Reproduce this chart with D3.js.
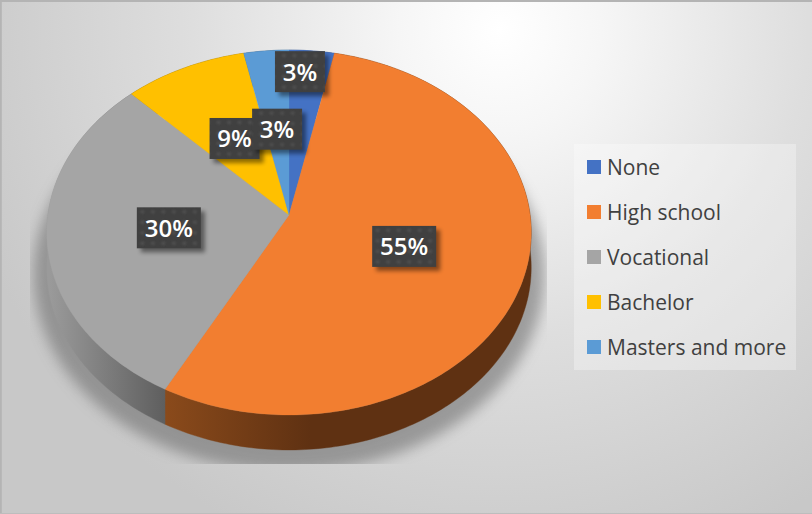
<!DOCTYPE html>
<html><head><meta charset="utf-8">
<script src="https://cdn.jsdelivr.net/npm/d3@7"></script>
<style>html,body{margin:0;padding:0;background:#fff;overflow:hidden}svg{display:block}text{font-family:"Open Sans",sans-serif}</style>
</head><body><div id="chart"></div>
<script>
const categories = ["None","High school","Vocational","Bachelor","Masters and more"];
const shares = [3.3,54.5,29.9,9.0,3.3];
const colors = ["#4472C4","#F27E30","#A5A5A5","#FFC000","#5B9BD5"];

const W=812,H=514;
const apex={x:289,y:215}, R=241.1, B=180.8, K=0.0959, DEPTH=35;
// perspective projection of a point on the unit disc (angle clockwise from top)
const project=(a,r=1)=>{const u=r*Math.sin(a),v=-r*Math.cos(a),s=1-K*v;return [apex.x+R*u/s,apex.y+B*v/s];};
const line=d3.line();
const samples=(a0,a1)=>{const n=Math.max(2,Math.ceil((a1-a0)*60));return d3.range(n+1).map(i=>a0+(a1-a0)*i/n);};

const svg=d3.select("#chart").append("svg").attr("width",W).attr("height",H);
const defs=svg.append("defs");

const bg=defs.append("radialGradient").attr("id","bg").attr("gradientUnits","userSpaceOnUse")
 .attr("cx",500).attr("cy",30).attr("r",560);
[[0,"#ffffff"],[0.18,"#f6f6f6"],[0.55,"#dedede"],[1,"#c8c8c8"]].forEach(s=>bg.append("stop").attr("offset",s[0]).attr("stop-color",s[1]));

const blur=(id,sd)=>defs.append("filter").attr("id",id).attr("x","-30%").attr("y","-30%").attr("width","160%").attr("height","160%")
 .append("feGaussianBlur").attr("stdDeviation",sd);
blur("soft",7); blur("lblShadow",2.2); blur("dotBlur",1);

const pat=defs.append("pattern").attr("id","dots").attr("patternUnits","userSpaceOnUse").attr("width",10.5).attr("height",10.5);
pat.append("rect").attr("width",10.5).attr("height",10.5).attr("fill","#404040");
pat.append("circle").attr("cx",5).attr("cy",5).attr("r",2).attr("fill","#505050").attr("filter","url(#dotBlur)");

defs.append("clipPath").attr("id","shClip").append("rect").attr("x",30).attr("y",120).attr("width",517).attr("height",344);

const wallGrad=(id,x1,x2,c1,c2)=>{const g=defs.append("linearGradient").attr("id",id).attr("gradientUnits","userSpaceOnUse")
 .attr("x1",x1).attr("x2",x2).attr("y1",0).attr("y2",0);
 g.append("stop").attr("offset",0).attr("stop-color",c1);g.append("stop").attr("offset",1).attr("stop-color",c2);};
wallGrad("wall1",166,310,"#8A4A1B","#5F3112");
wallGrad("wall2",50,170,"#9a9a9a","#5c5c5c");

svg.append("rect").attr("width",W).attr("height",H).attr("fill","url(#bg)");
svg.append("path").attr("d",`M0.8,${H}V1H${W}`).attr("fill","none").attr("stroke","#b4b4b4").attr("stroke-width",2);
svg.append("line").attr("x1",0).attr("x2",W).attr("y1",H-0.5).attr("y2",H-0.5).attr("stroke","#bdbdbd");

const arcs=d3.pie().sort(null).value(d=>d)(shares);
const full=samples(0,2*Math.PI).map(a=>project(a));

// blurred cast shadow, cut off by its own rectangle as in the picture
svg.append("g").attr("clip-path","url(#shClip)").append("path")
 .attr("d",line(full.map(p=>[apex.x+(p[0]-apex.x)*1.055,232+(p[1]-232)*1.08+42]))+"Z")
 .attr("fill","#666").attr("opacity",0.55).attr("filter","url(#soft)");

// side wall
const wallFill=i=>i===1?"url(#wall1)":i===2?"url(#wall2)":d3.color(colors[i]).darker(1.6);
svg.append("g").selectAll("path").data(arcs).join("path")
 .attr("d",d=>{const t=samples(d.startAngle,d.endAngle).map(a=>project(a));
   return line(t.concat(t.slice().reverse().map(p=>[p[0],p[1]+DEPTH])))+"Z";})
 .attr("fill",(d,i)=>wallFill(i)).attr("stroke",(d,i)=>wallFill(i)).attr("stroke-width",0.4);

// top face
svg.append("g").selectAll("path").data(arcs).join("path")
 .attr("d",d=>line([[apex.x,apex.y]].concat(samples(d.startAngle,d.endAngle).map(a=>project(a))))+"Z")
 .attr("fill",(d,i)=>colors[i]).attr("stroke",(d,i)=>colors[i]).attr("stroke-width",0.3);

// data labels
const LABEL_RADIUS=0.5, OUTER_RADIUS=0.866;
const labelPos=(d,i)=>{const m=(d.startAngle+d.endAngle)/2;
  if(i===0){const p=project(m,OUTER_RADIUS);return [p[0]-9,p[1]+0.5];}
  return project(m,LABEL_RADIUS);};
const fmt=v=>v.toFixed(0)+"%";
const lab=svg.append("g").selectAll("g").data(arcs).join("g")
 .attr("transform",(d,i)=>{const p=labelPos(d,i);return `translate(${p[0]},${p[1]})`;});
const boxW=d=>fmt(d.data).length>2?64:50;
lab.append("rect").attr("x",d=>-boxW(d)/2+4).attr("y",-20.5+4).attr("width",boxW).attr("height",41)
 .attr("fill","#000").attr("opacity",0.45).attr("filter","url(#lblShadow)");
lab.append("rect").attr("x",d=>-boxW(d)/2).attr("y",-20.5).attr("width",boxW).attr("height",41).attr("fill","url(#dots)");
lab.append("text").attr("text-anchor","middle").attr("y",9).attr("font-size",24).attr("font-weight",600).attr("fill","#fff").text(d=>fmt(d.data));

// legend
svg.append("rect").attr("x",574).attr("y",144).attr("width",222).attr("height",226).attr("fill","#fff").attr("opacity",0.3);
const legY=d3.scalePoint().domain(categories).range([167,347]);
const leg=svg.append("g").selectAll("g").data(categories).join("g").attr("transform",d=>`translate(587,${legY(d)})`);
leg.append("rect").attr("y",-7).attr("width",14).attr("height",14).attr("fill",(d,i)=>colors[i]);
leg.append("text").attr("x",20).attr("y",8).attr("font-size",21).attr("fill","#404040").text(d=>d);
</script></body></html>
